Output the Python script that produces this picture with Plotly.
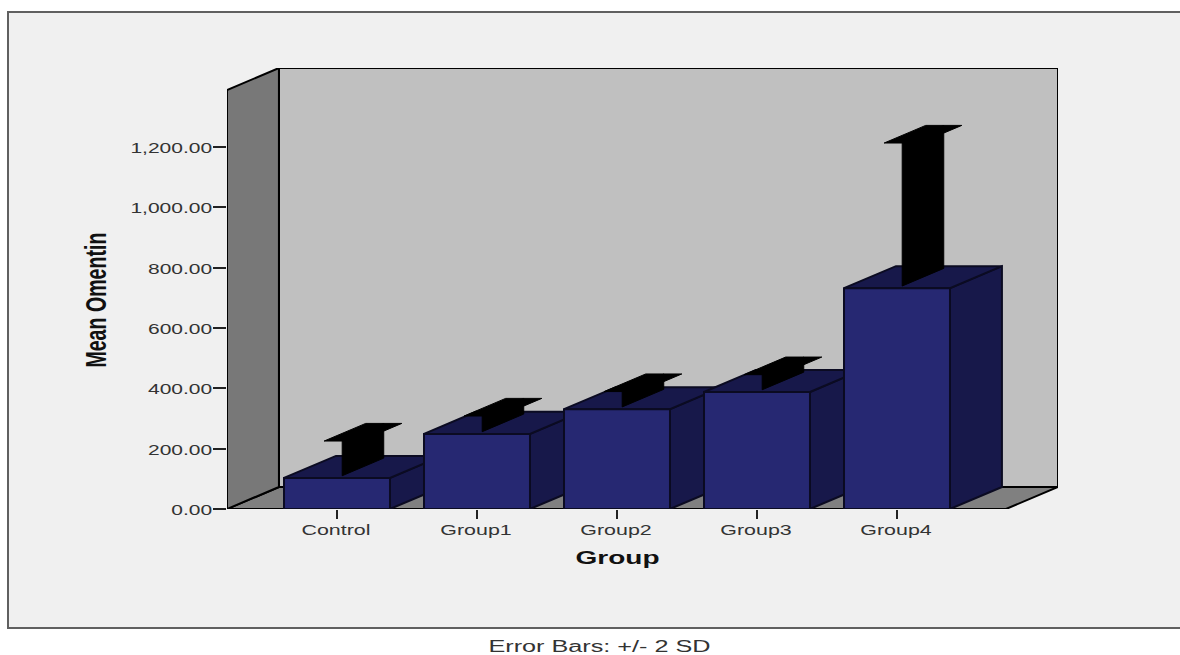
import plotly.graph_objects as go

categories = ["Control", "Group1", "Group2", "Group3", "Group4"]
means = [103, 249, 331, 388, 732]
upper_2sd = [218, 301, 382, 438, 1206]
y_ticks = [0, 200, 400, 600, 800, 1000, 1200]
y_labels = ["0.00", "200.00", "400.00", "600.00", "800.00", "1,000.00", "1,200.00"]

# pseudo-3D projection, in axis units
DX, DY = 0.371, 73
BAR_W = 0.757
CAP = 0.129
F1, F2 = 0.1, 0.9
XMIN, XMAX, YMAX = -0.7857, 5.15, 1462

FRONT, DARK = "#262872", "#17184a"
EDGE = "#0b0b22"

fig = go.Figure()


def poly(xs, ys, fill, line="#000000", w=2):
    fig.add_trace(go.Scatter(
        x=xs + xs[:1], y=ys + ys[:1], mode="lines", fill="toself", fillcolor=fill,
        line=dict(color=line, width=w), hoverinfo="skip", showlegend=False,
        cliponaxis=False, xaxis="x", yaxis="y"))


# walls and floor
poly([XMIN + DX, XMAX, XMAX, XMIN + DX], [DY, DY, YMAX, YMAX], "#c0c0c0")
poly([XMIN, XMIN + DX, XMAX, XMAX - DX], [0, DY, DY, 0], "#808080")
poly([XMIN, XMIN + DX, XMIN + DX, XMIN], [0, DY, YMAX, YMAX - DY], "#787878")

# bar tops, sides and error ribbons (front faces are a real bar trace above)
for i, (m, u) in enumerate(zip(means, upper_2sd)):
    l, r = i - BAR_W / 2, i + BAR_W / 2
    poly([r, r + DX, r + DX, r], [0, DY, m + DY, m], DARK, EDGE)
    poly([l, r, r + DX, l + DX], [m, m, m + DY, m + DY], DARK, EDGE)
    a, b = i + DX * F1, i + DX * F2
    poly([a - CAP, a + CAP, b + CAP, b - CAP],
         [u + DY * F1, u + DY * F1, u + DY * F2, u + DY * F2], "#000000", "#000000", 1)
    poly([a, b, b, a],
         [m + DY * F1, m + DY * F2, u + DY * F2, u + DY * F1], "#000000", "#000000", 1)

fig.add_trace(go.Bar(
    x=list(range(len(categories))), y=means, width=BAR_W, marker_color=FRONT,
    marker_line=dict(color=EDGE, width=2), hoverinfo="skip", showlegend=False,
    xaxis="x2", yaxis="y2", cliponaxis=False))

tickfont = dict(family="Liberation Sans", size=14, color="#333333")
fig.update_layout(
    width=1180, height=655, autosize=False,
    margin=dict(l=227, r=122, t=68, b=146, autoexpand=False, pad=0),
    paper_bgcolor="#ffffff", plot_bgcolor="rgba(0,0,0,0)",
    xaxis=dict(range=[XMIN, XMAX], tickmode="array", tickvals=list(range(len(categories))),
               ticktext=categories, ticks="outside", ticklen=9, tickwidth=2, tickcolor="#222222",
               showgrid=False, zeroline=False, showline=False, tickfont=tickfont),
    yaxis=dict(range=[0, YMAX], tickmode="array", tickvals=y_ticks, ticktext=y_labels,
               ticks="outside", ticklen=13, tickwidth=2, tickcolor="#222222",
               showgrid=False, zeroline=False, showline=False, tickfont=tickfont),
    xaxis2=dict(overlaying="x", matches="x", visible=False),
    yaxis2=dict(overlaying="y", matches="y", visible=False),
    shapes=[dict(type="rect", xref="paper", yref="paper", layer="below",
                 x0=(8 - 227) / 831, x1=(1200 - 227) / 831,
                 y0=(509 - 628) / 441, y1=(509 - 12) / 441,
                 fillcolor="#f0f0f0", line=dict(color="#606060", width=2))],
    annotations=[
        dict(text="<b>Group</b>", xref="paper", yref="paper", x=(617 - 227) / 831,
             y=(509 - 557) / 441, showarrow=False, xanchor="center", yanchor="middle",
             font=dict(family="Liberation Sans", size=19, color="#111111")),
        dict(text="Error Bars: +/- 2 SD", xref="paper", yref="paper", x=(599 - 227) / 831,
             y=(509 - 646.5) / 441, showarrow=False, xanchor="center", yanchor="middle",
             font=dict(family="Liberation Sans", size=16, color="#333333")),
        dict(text="<b>Mean Omentin</b>", xref="paper", yref="paper", x=(96 - 227) / 831,
             y=(509 - 300) / 441, showarrow=False, textangle=-90, xanchor="center", yanchor="middle",
             font=dict(family="Liberation Sans", size=29, color="#111111")),
    ],
)

# The reference's text is stretched horizontally (and squeezed when rotated).
stretch = """
document.body.style.margin='0';document.body.style.overflow='hidden';
function st(sel,f,dx,dy){document.querySelectorAll(sel).forEach(function(t){
  var n=t.getComputedTextLength();
  t.setAttribute('textLength',n*f);t.setAttribute('lengthAdjust','spacingAndGlyphs');
  t.setAttribute('dx',dx);t.setAttribute('dy',dy);});}
st('.xtick text',1.53,-1,-1);st('.ytick text',1.5,2,1);
document.querySelectorAll('.annotation-text').forEach(function(t){
  var s=t.textContent;
  var target=s.indexOf('Mean')===0?135:(s.indexOf('Error')===0?222:84);
  t.setAttribute('textLength',target);t.setAttribute('lengthAdjust','spacingAndGlyphs');});
"""
fig.write_html("out.html", config=dict(displayModeBar=False), post_script=stretch)
